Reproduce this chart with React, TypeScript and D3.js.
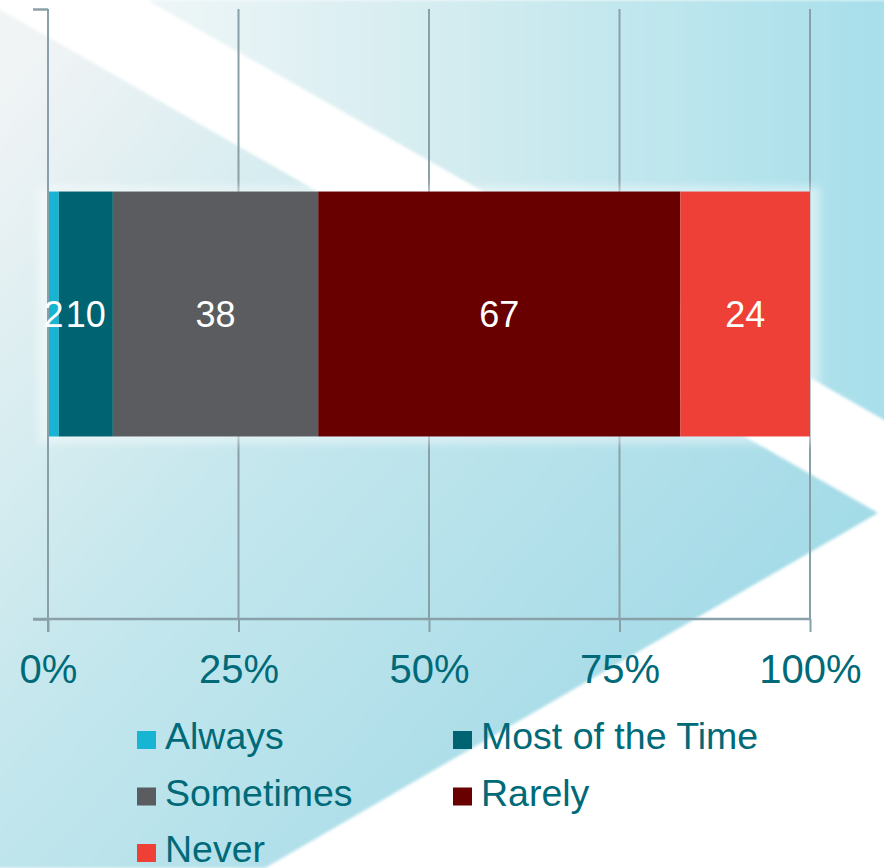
import { useEffect, useRef } from "react";
import * as d3 from "d3";

const categories = ["Always", "Most of the Time", "Sometimes", "Rarely", "Never"];
const values = [2, 10, 38, 67, 24];
const colors = ["#17b5d3", "#006371", "#5b5c5f", "#680000", "#ee4036"];
const tickValues = [0, 0.25, 0.5, 0.75, 1];
const tickLabels = ["0%", "25%", "50%", "75%", "100%"];

const FONT = "'Liberation Sans', Arial, sans-serif";
const TEAL = "#006a78";
const GRID = "#8aa0a8";

export default function App() {
  const svgRef = useRef<SVGSVGElement>(null);

  useEffect(() => {
    if (!svgRef.current) return;
    const width = 884;
    const height = 868;
    const margin = { top: 9, right: 74, bottom: 249, left: 48 };

    const svg = d3.select(svgRef.current);
    svg.selectAll("*").remove();
    svg.attr("width", width).attr("height", height);

    const defs = svg.append("defs");
    const topGrad = defs
      .append("linearGradient")
      .attr("id", "topGrad")
      .attr("gradientUnits", "userSpaceOnUse")
      .attr("x1", 150)
      .attr("y1", 0)
      .attr("x2", 884)
      .attr("y2", 0);
    topGrad.append("stop").attr("offset", 0).attr("stop-color", "#eef6f7");
    topGrad.append("stop").attr("offset", 0.4).attr("stop-color", "#d4ecf0");
    topGrad.append("stop").attr("offset", 1).attr("stop-color", "#a7dfea");

    const lowGrad = defs
      .append("linearGradient")
      .attr("id", "lowGrad")
      .attr("gradientUnits", "userSpaceOnUse")
      .attr("x1", 0)
      .attr("y1", 80)
      .attr("x2", 700)
      .attr("y2", 700);
    lowGrad.append("stop").attr("offset", 0).attr("stop-color", "#f1f4f5");
    lowGrad.append("stop").attr("offset", 0.45).attr("stop-color", "#c6e7ed");
    lowGrad.append("stop").attr("offset", 1).attr("stop-color", "#a3dbe7");

    const blur = defs
      .append("filter")
      .attr("id", "soft")
      .attr("x", -0.1)
      .attr("y", -0.1)
      .attr("width", 1.2)
      .attr("height", 1.2);
    blur.append("feGaussianBlur").attr("stdDeviation", 4);

    const edge = defs.append("filter").attr("id", "edge");
    edge.append("feGaussianBlur").attr("stdDeviation", 1.5);

    // background chevrons
    svg.append("rect").attr("width", width).attr("height", height).attr("fill", "#ffffff");
    svg
      .append("polygon")
      .attr("points", "147,0 900,0 900,429")
      .attr("fill", "url(#topGrad)")
      .attr("filter", "url(#edge)");
    svg
      .append("polygon")
      .attr("points", "-20,-2 878,513 265,868 -20,868")
      .attr("fill", "url(#lowGrad)")
      .attr("filter", "url(#edge)");

    const x = d3
      .scaleLinear()
      .domain([0, 1])
      .range([margin.left, width - margin.right]);

    const y = d3
      .scaleBand()
      .domain(["All"])
      .range([margin.top, height - margin.bottom])
      .padding(0.427);

    const yLin = d3
      .scaleLinear()
      .domain([0, 1])
      .range([height - margin.bottom, margin.top]);

    // gridlines
    svg
      .append("g")
      .selectAll("line")
      .data(tickValues.slice(1))
      .enter()
      .append("line")
      .attr("x1", (d) => x(d))
      .attr("x2", (d) => x(d))
      .attr("y1", margin.top)
      .attr("y2", height - margin.bottom)
      .attr("stroke", GRID)
      .attr("stroke-width", 2);

    // bar glow
    const by = y("All") ?? 0;
    const bh = y.bandwidth();
    svg
      .append("rect")
      .attr("x", x(0) - 10)
      .attr("y", by - 5)
      .attr("width", x(1) - x(0) + 20)
      .attr("height", bh + 12)
      .attr("fill", "#ffffff")
      .attr("opacity", 0.45)
      .attr("filter", "url(#soft)");

    const row: Record<string, number> = {};
    categories.forEach((c, i) => (row[c] = values[i]));
    const stacked = d3
      .stack<Record<string, number>>()
      .keys(categories)
      .offset(d3.stackOffsetExpand)([row]);

    const seg = svg.append("g");
    stacked.forEach((layer, i) => {
      const [x0, x1] = layer[0];
      seg
        .append("rect")
        .attr("x", x(x0))
        .attr("y", by)
        .attr("width", x(x1) - x(x0))
        .attr("height", bh)
        .attr("fill", colors[i]);
    });

    // x axis
    const xAxis = d3
      .axisBottom(x)
      .tickValues(tickValues)
      .tickSize(13)
      .tickFormat((_, i) => tickLabels[i]);
    const gx = svg
      .append("g")
      .attr("transform", `translate(0, ${height - margin.bottom})`)
      .call(xAxis);
    gx.select(".domain")
      .attr("stroke", GRID)
      .attr("stroke-width", 2.5)
      .attr("d", `M${margin.left - 15},0H${x(1)}`);
    gx.selectAll(".tick line").attr("stroke", GRID).attr("stroke-width", 2);
    gx.selectAll(".tick text")
      .attr("y", 36)
      .attr("dy", "0.71em")
      .style("font-family", FONT)
      .style("font-size", "40px")
      .style("fill", TEAL);

    // y axis
    const yAxis = d3.axisLeft(yLin).tickValues([0, 1]).tickSize(15).tickFormat(() => "");
    const gy = svg.append("g").attr("transform", `translate(${margin.left}, 0)`).call(yAxis);
    gy.select(".domain")
      .attr("stroke", GRID)
      .attr("stroke-width", 2)
      .attr("d", `M0,${margin.top}V${height - margin.bottom + 13}`);
    gy.selectAll(".tick line").attr("stroke", GRID).attr("stroke-width", 2.5);

    // data labels
    stacked.forEach((layer) => {
      const [x0, x1] = layer[0];
      svg
        .append("text")
        .attr("x", (x(x0) + x(x1)) / 2)
        .attr("y", by + bh / 2)
        .attr("dy", "0.36em")
        .attr("text-anchor", "middle")
        .style("font-family", FONT)
        .style("font-size", "36px")
        .style("fill", "#ffffff")
        .text(String(row[layer.key]));
    });

    // legend
    const legend = svg.append("g");
    categories.forEach((c, i) => {
      const col = i % 2;
      const r = Math.floor(i / 2);
      const lx = col === 0 ? 137 : 453;
      const ly = 749 + r * 56.5;
      legend
        .append("rect")
        .attr("x", lx)
        .attr("y", ly - 18)
        .attr("width", 19)
        .attr("height", 18)
        .attr("fill", colors[i]);
      legend
        .append("text")
        .attr("x", lx + 28)
        .attr("y", ly)
        .style("font-family", FONT)
        .style("font-size", "37.5px")
        .style("fill", TEAL)
        .text(c);
    });
  }, []);

  return (
    <svg
      ref={svgRef}
      style={{ position: "absolute", left: 0, top: 0, display: "block" }}
    />
  );
}
